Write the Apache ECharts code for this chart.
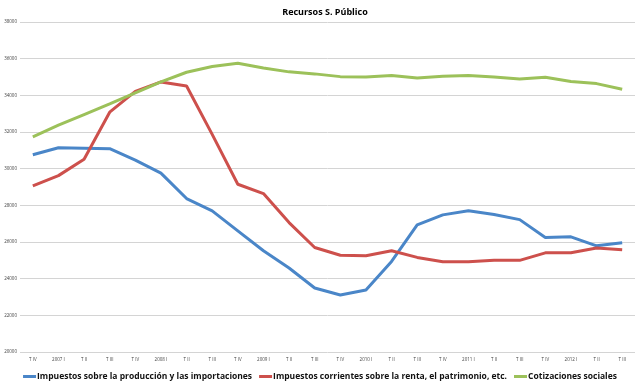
<!DOCTYPE html>
<html><head><meta charset="utf-8">
<script src="https://cdn.jsdelivr.net/npm/echarts@6/dist/echarts.min.js"></script>
<style>html,body{margin:0;padding:0;background:#fff}#c{width:640px;height:384px}</style>
</head><body><div id="c"></div>
<script>
const categories = ["T IV","2007 I","T II","T III","T IV","2008 I","T II","T III","T IV","2009 I","T II","T III","T IV","2010 I","T II","T III","T IV","2011 I","T II","T III","T IV","2012 I","T II","T III"];
const impuestosProduccion = [30760,31140,31120,31090,30470,29760,28370,27700,26610,25520,24580,23490,23110,23380,24940,26930,27480,27700,27500,27220,26250,26280,25790,25960];
const impuestosRenta = [29060,29620,30510,33080,34220,34730,34510,31870,29150,28640,27060,25700,25280,25250,25520,25160,24920,24920,25000,25000,25410,25410,25670,25580];
const cotizaciones = [31740,32370,32950,33530,34130,34730,35260,35570,35750,35490,35280,35170,35020,35000,35080,34950,35040,35080,35000,34890,34990,34750,34640,34330];
const seriesNames = ["Impuestos sobre la producción y las importaciones","Impuestos corrientes sobre la renta, el patrimonio, etc.","Cotizaciones sociales"];
const colors = ["#4A86C8","#CD504C","#9CC15A"];
const yMin = 20000, yMax = 38000, yStep = 2000;

const chart = echarts.init(document.getElementById('c'), null, {renderer:'canvas'});
const data = [impuestosProduccion, impuestosRenta, cotizaciones];
chart.setOption({
  animation:false,
  textStyle:{fontFamily:'Open Sans'},
  title:{text:'Recursos S. Público', left:320, textAlign:'center', top:3,
    textStyle:{fontSize:9, fontWeight:'bold', color:'#000', fontFamily:'Open Sans'}},
  grid:{left:20, right:5, top:22, bottom:32, containLabel:false},
  legend:{top:367, left:'center', itemWidth:13, itemHeight:3, itemGap:7,
    icon:'rect',
    textStyle:{fontSize:8.5, fontWeight:'bold', color:'#111', padding:[0,0,0,-4], fontFamily:'Open Sans'},
    data:seriesNames},
  xAxis:{type:'category', data:categories, boundaryGap:true,
    axisLine:{show:false}, axisTick:{show:false},
    axisLabel:{fontSize:4.5, color:'#444', margin:5, interval:0}},
  yAxis:{type:'value', min:yMin, max:yMax, interval:yStep,
    axisLine:{show:false}, axisTick:{show:false},
    axisLabel:{fontSize:4.5, color:'#444', margin:3, formatter:v=>String(v)},
    splitLine:{lineStyle:{color:'#d4d4d4', width:1}}},
  series: data.map((d,i)=>({
    name:seriesNames[i], type:'line', data:d, symbol:'none',
    lineStyle:{width:3, color:colors[i]}, itemStyle:{color:colors[i]}
  }))
});
</script></body></html>
